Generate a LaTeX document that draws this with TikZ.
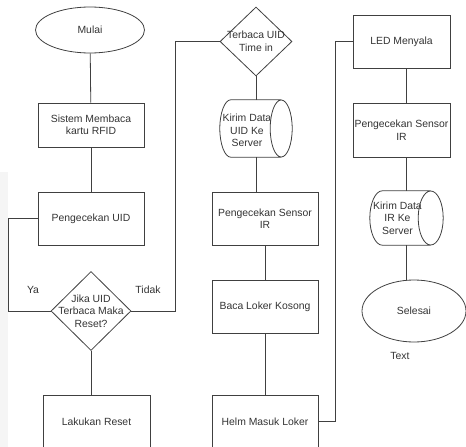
\documentclass[tikz,border=0pt]{standalone}
\usepackage{fontspec}
\setmainfont{Liberation Sans}
\usepackage{tikz}
\usetikzlibrary{shapes.geometric}

\begin{document}
\begin{tikzpicture}[x=1pt,y=-1pt,
	every node/.style={font=\fontsize{10.4}{12.5}\selectfont,text=black!80},
	garis/.style={draw=black!75,line width=0.8pt},
	kotak/.style={garis,rectangle,align=center,inner sep=0pt},
	oval/.style={garis,ellipse,inner sep=0pt},
	belah/.style={garis,diamond,inner sep=0pt},
	tabung/.style={rectangle,inner sep=0pt}]
	\useasboundingbox (0,0) rectangle (466,447);
	\fill[black!4] (0,172) rectangle (8,447);
	\node[oval,minimum width=109,minimum height=46] (mulai) at (90,30) {Mulai};
	\node[kotak,minimum width=106,minimum height=44] (sistem) at (91,125) {Sistem Membaca\\kartu RFID};
	\node[kotak,minimum width=106,minimum height=53] (cekuid) at (91,218.5) {Pengecekan UID};
	\node[belah,minimum width=80,minimum height=79,label={[align=center]center:Jika UID\\Terbaca Maka\\Reset?}] (jika) at (91,311) {};
	\node[kotak,minimum width=107,minimum height=53] (reset) at (96.5,421.5) {Lakukan Reset};
	\node (ya) at (33,290) {Ya};
	\node (tidak) at (148,290) {Tidak};
	\node[belah,minimum width=72,minimum height=69,label={[align=center]center:Terbaca UID\\Time in}] (terbaca) at (256,41.5) {};
	\node[tabung,minimum width=72,minimum height=57,label={[align=center,xshift=-9pt,yshift=-2pt]center:Kirim Data\\UID Ke\\Server}] (kirimuid) at (256,128.5) {};
	\node[kotak,minimum width=106,minimum height=53] (cekir) at (265,218.5) {Pengecekan Sensor\\IR};
	\node[kotak,minimum width=106,minimum height=53] (baca) at (265,306.5) {Baca Loker Kosong};
	\node[kotak,minimum width=106,minimum height=53] (helm) at (265,421.5) {Helm Masuk Loker};
	\node[kotak,minimum width=97,minimum height=53] (led) at (401.5,41.5) {LED Menyala};
	\node[kotak,minimum width=97,minimum height=54] (cekir2) at (401.5,130) {Pengecekan Sensor\\IR};
	\node[tabung,minimum width=73,minimum height=54,label={[align=center,xshift=-9pt]center:Kirim Data\\IR Ke\\Server}] (kirimir) at (406.5,218) {};
	\node[oval,minimum width=104,minimum height=62] (selesai) at (414,311) {Selesai};
	\node (teks) at (400,356) {Text};
	\foreach \n/\rx/\ry in {kirimuid/11/28.5,kirimir/12.5/27}
		\draw[garis] ([xshift=\rx]\n.north west) -- ([xshift=-\rx]\n.north east)
			([xshift=\rx]\n.north west) .. controls ([xshift=0.45*\rx]\n.north west) and ([yshift=0.55*\ry]\n.west) .. (\n.west)
			.. controls ([yshift=-0.55*\ry]\n.west) and ([xshift=0.45*\rx]\n.south west) .. ([xshift=\rx]\n.south west)
			-- ([xshift=-\rx]\n.south east)
			([xshift=-\rx]\n.east) ellipse [x radius=\rx pt,y radius=\ry pt];
	\coordinate (kiri) at (8,311);
	\coordinate (kanan) at (175,41.5);
	\coordinate (tengah) at (335,41.5);
	\draw[garis] (mulai) -- (sistem);
	\draw[garis] (sistem) -- (cekuid);
	\draw[garis] (cekuid.west) -| (kiri) -- (jika.west);
	\draw[garis] (jika.south) -- (jika.south |- reset.north);
	\draw[garis] (jika.east) -| (kanan) -- (terbaca.west);
	\draw[garis] (terbaca.south) -- (kirimuid.north);
	\draw[garis] (kirimuid.south) -- (kirimuid.south |- cekir.north);
	\draw[garis] (cekir) -- (baca);
	\draw[garis] (baca) -- (helm);
	\draw[garis] (helm.east) -| (tengah) -- (led.west);
	\draw[garis] (kirimir.north |- led.south) -- (kirimir.north |- cekir2.north);
	\draw[garis] (kirimir.north |- cekir2.south) -- (kirimir.north);
	\draw[garis] (kirimir.south) -- (kirimir.south |- selesai.north);
\end{tikzpicture}
\end{document}
